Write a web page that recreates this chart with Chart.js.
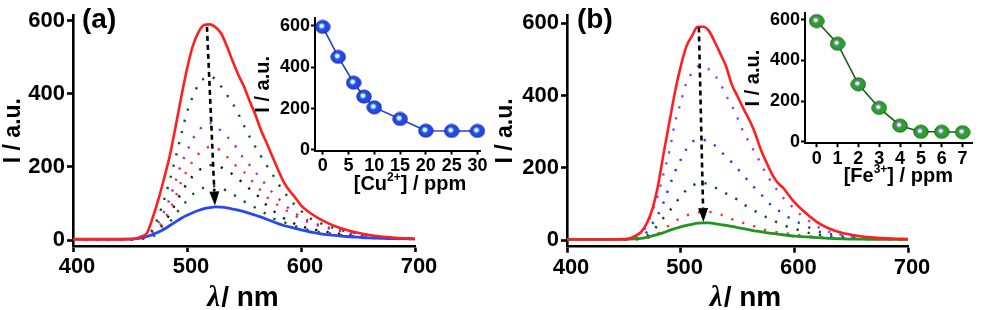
<!DOCTYPE html>
<html><head><meta charset="utf-8">
<script src="https://cdn.jsdelivr.net/npm/chart.js@4.4.1/dist/chart.umd.min.js"></script>
<style>
html,body{margin:0;padding:0;background:#fff;}
#wrap{position:relative;width:981px;height:310px;overflow:hidden;background:#fff;}
canvas{position:absolute;top:0;}
</style></head><body>
<div id="wrap">
<canvas id="mainA" width="480" height="310" style="left:0px;width:480px;height:310px"></canvas>
<canvas id="mainB" width="491" height="310" style="left:490px;width:491px;height:310px"></canvas>
<canvas id="insetA" width="250" height="200" style="left:250px;width:250px;height:200px"></canvas>
<canvas id="insetB" width="241" height="200" style="left:740px;width:241px;height:200px"></canvas>
</div>
<script>
// ---------- data ----------
const wavelengths = [400,420,440,450,455,460,465,470,475,480,485,490,495,500,505,510,515,520,525,530,535,540,545,550,555,560,565,570,575,580,585,590,595,600,610,620,630,640,650,660,670,680,690,700];
const wlTicks = [400,500,600,700];
const intensityTicks = [0,200,400,600];

// panel (a): Cu2+ titration spectra
const cuSpec0  = [2,2,2,3,4,10,20,62,112,170,232,310,392,468,530,568,588,590,582,565,530,490,452,420,380,343,300,265,228,192,158,135,116,95,70,52,38,28,20,14,10,7,5,4];
const cuSpec3  = [2,2,2,2,3,5,12,30,65,112,165,225,290,350,392,425,442,447,440,420,397,374,345,313,282,255,229,204,180,154,133,112,95,80,56,43,32,24,18,13,9,6,5,4];
const cuSpec6  = [2,2,2,2,3,5,10,25,48,78,115,162,208,243,276,298,315,320,312,298,283,268,245,222,205,186,168,148,130,114,99,85,73,64,48,38,30,23,17,12,9,6,5,4];
const cuSpec8  = [2,2,2,2,3,4,8,18,35,55,85,118,160,190,215,235,248,255,252,244,228,212,198,186,170,150,135,118,105,95,85,76,67,57,45,36,28,21,16,11,8,6,4,4];
const cuSpec10 = [2,2,2,2,3,4,7,14,28,48,72,100,130,155,175,190,200,205,204,199,190,180,168,153,140,127,112,95,82,70,60,51,44,38,30,24,19,15,12,9,7,5,4,4];
const cuSpec15 = [2,2,2,2,3,4,6,10,20,33,50,70,92,108,125,137,144,148,147,142,135,126,116,106,97,89,80,70,60,54,49,43,38,33,26,20,16,12,9,7,5,4,3,3];
const cuSpec30 = [3,3,3,3,4,6,10,15,22,30,40,50,60,68,75,81,86,89,91,90,88,85,82,78,73,68,63,57,51,45,40,36,32,28,21,16,13,10,8,6,5,4,4,3];

// panel (b): Fe3+ titration spectra
const feSpec0 = [2,2,2,3,5,12,22,45,85,150,240,325,410,480,535,565,590,590,578,548,515,480,430,398,365,335,300,255,218,185,160,145,125,105,75,50,33,22,15,10,7,5,4,3];
const feSpec1 = [2,2,2,2,3,8,18,40,80,125,185,245,325,380,435,462,480,480,472,456,432,400,372,338,300,272,244,215,184,160,138,118,104,86,60,38,24,16,11,7,5,4,3,3];
const feSpec2 = [2,2,2,2,2,3,8,22,45,70,105,148,189,222,252,272,276,277,272,262,245,232,215,198,180,162,145,128,114,95,84,75,63,54,40,25,18,13,9,6,4,3,3,2];
const feSpec3 = [2,2,2,2,2,3,5,12,25,42,62,80,100,122,138,150,157,158,154,146,138,129,120,112,100,90,81,73,64,57,49,43,36,32,22,16,11,8,6,4,3,3,2,2];
const feSpec4 = [2,2,2,2,2,2,3,5,10,18,28,42,53,60,68,74,77,78,78,76,71,65,58,53,48,44,38,32,28,25,22,20,18,16,12,9,7,5,4,3,3,2,2,2];
const feSpec7 = [2,2,2,2,3,4,5,8,12,16,21,27,32,37,41,44,47,48,48,46,43,41,38,35,32,29,26,24,21,19,17,15,13,11,9,7,5,4,3,3,2,2,2,2];

// insets
const cuConc = [0,3,6,8,10,15,20,25,30];
const cuIntensity = [595,450,325,258,206,150,93,92,92];
const cuTicks = [0,5,10,15,20,25,30];
const feConc = [0,1,2,3,4,5,6,7];
const feIntensity = [593,482,283,167,80,50,50,48];
const feTicks = [0,1,2,3,4,5,6,7];

// arrows (data space: [wavelength, intensity])
const arrowA = {from:[517.5,583], to:[524.5,95]};
const arrowB = {from:[516,588], to:[520,50]};

// ---------- helpers ----------
const SANS = '"Liberation Sans", Arial, Helvetica, sans-serif';
const mk = (xs, ys) => xs.map((x,i)=>({x:x, y:ys[i]}));

function solid(ys, color, w){
  return {data: mk(wavelengths, ys), borderColor: color, backgroundColor: color, borderWidth: w||2.6,
    pointRadius:0, cubicInterpolationMode:'monotone', fill:false, clip:false};
}
function dotted(ys, color){
  return {data: mk(wavelengths, ys), borderColor: color, backgroundColor: color, borderWidth: 2.4,
    borderDash:[2.2,9.3], borderCapStyle:'butt', pointRadius:0, cubicInterpolationMode:'monotone', fill:false, clip:false};
}

function sphere(base, edge, dot, dotEdge){
  const c = document.createElement('canvas'); c.width = 16; c.height = 15;
  const g = c.getContext('2d');
  g.beginPath(); g.ellipse(8,7.5,7.2,6.5,0,0,Math.PI*2);
  g.fillStyle = base; g.fill();
  g.lineWidth = 1; g.strokeStyle = edge; g.stroke();
  g.beginPath(); g.arc(7,6.6,2.6,0,Math.PI*2);
  g.fillStyle = dot; g.fill();
  g.lineWidth = 0.8; g.strokeStyle = dotEdge; g.stroke();
  return c;
}

function drawSegs(ctx, segs, cx, baseline){
  let total = 0;
  segs.forEach(s=>{ ctx.font = s.font; s.w = ctx.measureText(s.t).width + (s.gap||0); total += s.w; });
  let x = cx - total/2;
  ctx.save();
  ctx.fillStyle = '#000'; ctx.textAlign = 'left'; ctx.textBaseline = 'alphabetic';
  segs.forEach(s=>{ ctx.font = s.font; ctx.fillText(s.t, x, baseline + (s.dy||0)); x += s.w; });
  ctx.restore();
}

const extrasPlugin = {
  id:'extras',
  afterDatasetsDraw(chart, args, opts){
    const ctx = chart.ctx;
    const xs = chart.scales.x, ys = chart.scales.y;
    if (opts.arrow){
      const a = opts.arrow;
      const x1 = xs.getPixelForValue(a.from[0]), y1 = ys.getPixelForValue(a.from[1]);
      const x2 = xs.getPixelForValue(a.to[0]),   y2 = ys.getPixelForValue(a.to[1]);
      const ang = Math.atan2(y2-y1, x2-x1);
      const hl = 14, hw = 5;
      const bx = x2 - hl*Math.cos(ang), by = y2 - hl*Math.sin(ang);
      ctx.save();
      ctx.strokeStyle = '#000'; ctx.lineWidth = 2.6; ctx.setLineDash([5,4]);
      ctx.beginPath(); ctx.moveTo(x1,y1); ctx.lineTo(bx,by); ctx.stroke();
      ctx.setLineDash([]);
      ctx.fillStyle = '#000';
      ctx.beginPath();
      ctx.moveTo(x2,y2);
      ctx.lineTo(bx + hw*Math.sin(ang), by - hw*Math.cos(ang));
      ctx.lineTo(bx - hw*Math.sin(ang), by + hw*Math.cos(ang));
      ctx.closePath(); ctx.fill();
      ctx.restore();
    }
  },
  afterDraw(chart, args, opts){
    const ctx = chart.ctx;
    if (opts.label){
      ctx.save();
      ctx.fillStyle = '#000'; ctx.font = 'bold 28px ' + SANS;
      ctx.textAlign = 'left'; ctx.textBaseline = 'middle';
      ctx.fillText(opts.label, opts.labelX, opts.labelY);
      ctx.restore();
    }
    if (opts.xTitle){
      drawSegs(ctx, opts.xTitle.segs, opts.xTitle.cx, opts.xTitle.base);
    }
  }
};

function axisStyle(w, tl){
  return {
    border:{display:true, color:'#000', width:w},
    grid:{display:true, drawOnChartArea:false, drawTicks:true, tickLength:tl, tickWidth:w, tickColor:'#000'}
  };
}

function mainChart(id, datasets, cfg){
  return new Chart(document.getElementById(id), {
    type:'line',
    data:{datasets: datasets},
    options:{
      responsive:false, animation:false, events:[],
      layout:{padding:{left:0, right:cfg.padR, top:cfg.padT, bottom:0}},
      plugins:{legend:{display:false}, tooltip:{enabled:false},
        extras:{label:cfg.label, labelX:cfg.labelX, labelY:20, arrow:cfg.arrow,
          xTitle:{segs:[{t:'λ', font:'italic bold 29px "Liberation Serif", serif', gap:1},{t:'/ nm', font:'bold 28px '+SANS}], cx:cfg.titleX, base:306}}},
      scales:{
        x:Object.assign({type:'linear', min:400, max:700,
          afterBuildTicks: s=>{ s.ticks = wlTicks.map(v=>({value:v})); },
          afterFit: s=>{ s.height = cfg.xH; },
          ticks:{color:'#000', font:{family:SANS, size:22, weight:'bold'}, padding:2, maxRotation:0, autoSkip:false, labelOffset:4},
          title:{display:false}}, axisStyle(2.6,6)),
        y:Object.assign({type:'linear', min:cfg.yMin, max:cfg.yMax,
          afterBuildTicks: s=>{ s.ticks = intensityTicks.map(v=>({value:v})); },
          afterFit: s=>{ s.width = cfg.yW; },
          ticks:{color:'#000', font:{family:SANS, size:22, weight:'bold'}, padding:2, autoSkip:false},
          title:{display:true, text:'I / a.u.', color:'#000', font:{family:SANS, size:23, weight:'bold', lineHeight:1.1}, padding:{top:cfg.yTitlePad, bottom:0}}}, axisStyle(2.6,6))
      }
    },
    plugins:[extrasPlugin]
  });
}

function insetChart(id, xs, ys, ticks, lineColor, sprite, cfg){
  return new Chart(document.getElementById(id), {
    type:'line',
    data:{datasets:[{data: mk(xs, ys), borderColor: lineColor, borderWidth:1.6, pointStyle: sprite, pointRadius:7, clip:false, tension:0}]},
    options:{
      responsive:false, animation:false, events:[],
      layout:{padding:{left:0, right:cfg.padR, top:cfg.padT, bottom:0}},
      plugins:{legend:{display:false}, tooltip:{enabled:false},
        extras:{xTitle:{segs:cfg.titleSegs, cx:cfg.titleX, base:cfg.titleBase}}},
      scales:{
        x:Object.assign({type:'linear', min:cfg.xMin, max:cfg.xMax,
          afterBuildTicks: s=>{ s.ticks = ticks.map(v=>({value:v})); },
          afterFit: s=>{ s.height = cfg.xH; },
          ticks:{color:'#000', font:{family:SANS, size:18, weight:'bold'}, padding:1, maxRotation:0, autoSkip:false},
          title:{display:false}}, axisStyle(2,4)),
        y:Object.assign({type:'linear', min:cfg.yMin, max:cfg.yMax,
          afterBuildTicks: s=>{ s.ticks = intensityTicks.map(v=>({value:v})); },
          afterFit: s=>{ s.width = cfg.yW; },
          ticks:{color:'#000', font:{family:SANS, size:18, weight:'bold'}, padding:1, autoSkip:false},
          title:{display:true, text:'I / a.u.', color:'#000', font:{family:SANS, size:20, weight:'bold', lineHeight:1.1}, padding:{top:cfg.yTitlePad, bottom:0}}}, axisStyle(2,4))
      }
    },
    plugins:[extrasPlugin]
  });
}

// ---------- charts ----------
mainChart('mainA', [
  solid(cuSpec0, '#ff1f1f', 2.6),
  solid(cuSpec30, '#2a48f0', 2.8),
  dotted(cuSpec3, '#10561c'),
  dotted(cuSpec6, '#9a30dc'),
  dotted(cuSpec8, '#ff2a2a'),
  dotted(cuSpec10, '#141414'),
  dotted(cuSpec15, '#10561c')
], {padR:65, padT:14, xH:64, yW:73, yMin:-16, yMax:615, yTitlePad:1, label:'(a)', labelX:82, arrow:arrowA, titleX:243});

mainChart('mainB', [
  solid(feSpec0, '#ff1f1f', 2.6),
  solid(feSpec7, '#1f961f', 2.8),
  dotted(feSpec1, '#a03ae0'),
  dotted(feSpec2, '#1c3cff'),
  dotted(feSpec3, '#0c4a1a'),
  dotted(feSpec4, '#ff2a2a')
], {padR:73, padT:10.2, xH:63.3, yW:77, yMin:-18, yMax:622, yTitlePad:3, label:'(b)', labelX:87, arrow:arrowB, titleX:255.5});

const B20 = 'bold 20px ' + SANS, B12 = 'bold 12px ' + SANS;
insetChart('insetA', cuConc, cuIntensity, cuTicks, '#1f3fd8',
  sphere('#2346ee', '#1428a0', '#d4fbe8', '#5aa0b0'),
  {padR:20, padT:18, xH:49.4, yW:65, xMin:-1.5, xMax:30.5, yMin:-3, yMax:638, yTitlePad:2,
   titleSegs:[{t:'[Cu', font:B20},{t:'2+', font:B12, dy:-9},{t:'] / ppm', font:B20}], titleX:160, titleBase:190});

insetChart('insetB', feConc, feIntensity, feTicks, '#1b5a1b',
  sphere('#27a327', '#136013', '#ece4ff', '#8a60c8'),
  {padR:4, padT:12.9, xH:56.8, yW:65, xMin:-0.56, xMax:7.47, yMin:-6, yMax:633, yTitlePad:2,
   titleSegs:[{t:'[Fe', font:B20},{t:'3+', font:B12, dy:-9},{t:'] / ppm', font:B20}], titleX:158.3, titleBase:182});
</script>
</body></html>
